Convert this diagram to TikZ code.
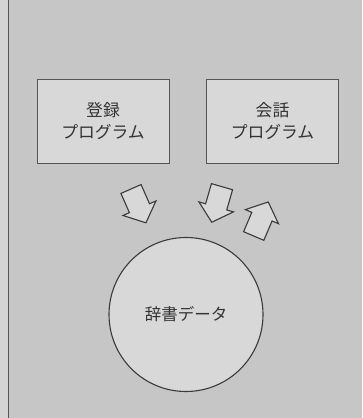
\documentclass[tikz,border=0pt]{standalone}
\usepackage{fontspec}
\newfontfamily\jpfont{Noto Sans CJK JP}
\definecolor{bgc}{HTML}{C6C6C6}
\definecolor{stripc}{HTML}{D4D4D4}
\definecolor{fillc}{HTML}{D8D8D8}
\definecolor{linec}{HTML}{3A3A3A}
\definecolor{boxline}{HTML}{555555}
\definecolor{textc}{HTML}{333333}
\tikzset{
  progbox/.style={draw=boxline, line width=0.9pt, fill=fillc, minimum width=132pt, minimum height=84pt, inner sep=0pt, align=center, font=\jpfont\fontsize{16.8}{22}\selectfont, text=textc},
  datacircle/.style={circle, draw=linec, line width=1.1pt, fill=fillc, minimum size=154pt, inner sep=0pt, font=\jpfont\fontsize{16.5}{20}\selectfont, text=textc},
  fatarrow/.style={draw=linec, line width=1.1pt, fill=fillc, line join=miter}
}
\begin{document}
\begin{tikzpicture}[x=1pt,y=1pt]
\useasboundingbox (0,0) rectangle (362,418);
\fill[bgc] (0,0) rectangle (362,418);
\fill[stripc] (0,0) rectangle (8,418);
\draw[boxline, line width=0.9pt] (8,0) -- (8,418);
\node[progbox] (reg) at (103,297) {登録\\プログラム};
\node[progbox] (conv) at (272.5,297) {会話\\プログラム};
\node[datacircle] (dict) at (186,103.5) {辞書データ};
% arrows: shifted to tail centre, rotated to direction
\foreach \tx/\ty/\ang [count=\i] in {131/229/-66.2, 222/231.3/-106.1, 253.7/182/66.9}{
  \draw[fatarrow, shift={(\tx,\ty)}, rotate=\ang]
    (0,-11) -- (21,-11) -- (21,-18) -- (37,0) -- (21,18) -- (21,11) -- (0,11) -- cycle;
}
\end{tikzpicture}
\end{document}
